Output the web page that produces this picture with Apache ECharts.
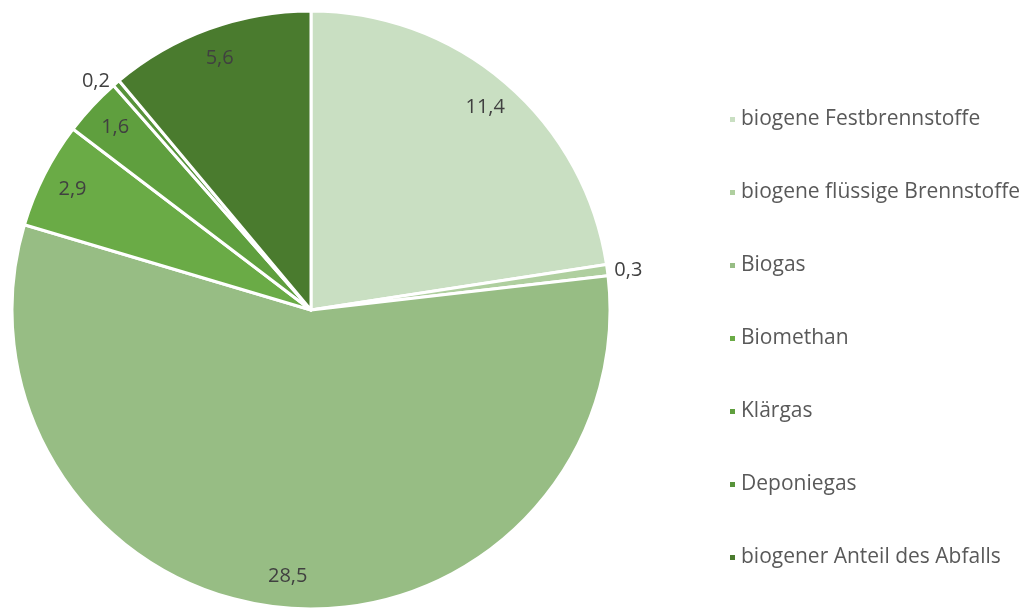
<!DOCTYPE html>
<html>
<head>
<meta charset="utf-8">
<script src="https://cdn.jsdelivr.net/npm/echarts@6/dist/echarts.min.js"></script>
<style>
  html, body { margin: 0; padding: 0; background: #fff; }
  #chart { width: 1031px; height: 608px; }
</style>
</head>
<body>
<div id="chart"></div>
<script>
// Daten
var categories = [
  "biogene Festbrennstoffe",
  "biogene flüssige Brennstoffe",
  "Biogas",
  "Biomethan",
  "Klärgas",
  "Deponiegas",
  "biogener Anteil des Abfalls"
];
var values = [11.4, 0.3, 28.5, 2.9, 1.6, 0.2, 5.6];
var colors = ["#c9dfc2", "#afcf9f", "#97bd84", "#6aab46", "#5f9f3e", "#57933a", "#4a7b2e"];
// kleine Werte werden außen beschriftet
var outsideLabels = ["biogene flüssige Brennstoffe", "Deponiegas"];

var fontFamily = "'Open Sans', 'Liberation Sans', sans-serif";

function fmt(v) {
  return String(v).replace(".", ",");
}

var sliceData = categories.map(function (name, i) {
  return { name: name, value: values[i], itemStyle: { color: colors[i] } };
});

// zweite (unsichtbare) Serie nur fuer die Beschriftung nahe am Rand
var labelData = categories.map(function (name, i) {
  var item = { name: name, value: values[i] };
  if (outsideLabels.indexOf(name) >= 0) {
    item.label = { position: "outside", distance: 8 };
  }
  return item;
});

var chart = echarts.init(document.getElementById("chart"));
chart.setOption({
  animation: false,
  color: colors,
  legend: {
    orient: "vertical",
    left: 723,
    top: 104,
    itemGap: 52,
    icon: "rect",
    itemWidth: 7,
    itemHeight: 7,
    textStyle: { fontFamily: fontFamily, fontSize: 21, color: "#595959", lineHeight: 20 },
    data: categories
  },
  series: [
    {
      type: "pie",
      center: [311, 310],
      radius: [0, 299],
      startAngle: 90,
      clockwise: true,
      label: { show: false },
      labelLine: { show: false },
      itemStyle: { borderColor: "#ffffff", borderWidth: 3 },
      data: sliceData
    },
    {
      type: "pie",
      center: [311, 310],
      radius: [230, 299],
      startAngle: 90,
      clockwise: true,
      silent: true,
      legendHoverLink: false,
      itemStyle: { color: "rgba(0,0,0,0)" },
      label: {
        show: true,
        position: "inside",
        fontFamily: fontFamily,
        fontSize: 20,
        color: "#404040",
        formatter: function (p) { return fmt(p.value); }
      },
      labelLine: { show: false, length: 2, length2: 0 },
      data: labelData
    }
  ]
});
</script>
</body>
</html>
